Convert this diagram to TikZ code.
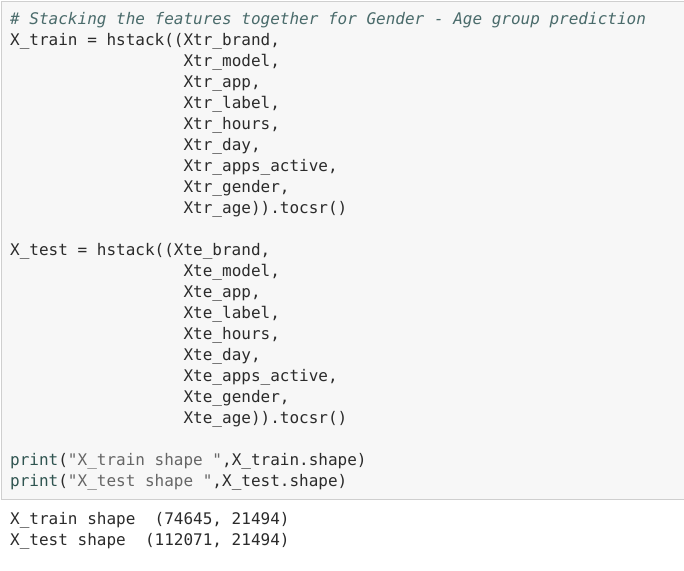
\documentclass[tikz,border=0pt]{standalone}
\usepackage{fontspec}
\newfontfamily\codefont{DejaVu Sans Mono}
\definecolor{cellbg}{HTML}{F7F7F7}
\definecolor{cellborder}{HTML}{CFCFCF}
\definecolor{codefg}{HTML}{2B2B2B}
\definecolor{commentfg}{HTML}{4A6B6B}
\definecolor{builtinfg}{HTML}{2F5450}
\definecolor{stringfg}{HTML}{666666}
\tikzset{
  codeline/.style={anchor=base west, inner sep=0pt, font=\codefont\fontsize{16}{21}\selectfont, text=codefg},
  outline/.style={codeline},
}
\newcommand{\us}{\_}
\begin{document}
\begin{tikzpicture}[x=1pt,y=-1pt]
\useasboundingbox (0,0) rectangle (684,570);
\fill[white] (0,0) rectangle (684,570);
\node[draw=cellborder, fill=cellbg, line width=0.8pt, minimum width=700pt, minimum height=498pt, anchor=north west, inner sep=0pt] (cell) at (1,1) {};
% code lines: baselines at center+5
\node[codeline, text=commentfg, font=\codefont\itshape\fontsize{16}{21}\selectfont] (l1) at (10,24) {\# Stacking the features together for Gender - Age group prediction};
\node[codeline] (l2) at (10,45) {X\us{}train = hstack((Xtr\us{}brand,};
\node[codeline] (l3) at (183.4,66) {Xtr\us{}model,};
\node[codeline] (l4) at (183.4,87) {Xtr\us{}app,};
\node[codeline] (l5) at (183.4,108) {Xtr\us{}label,};
\node[codeline] (l6) at (183.4,129) {Xtr\us{}hours,};
\node[codeline] (l7) at (183.4,150) {Xtr\us{}day,};
\node[codeline] (l8) at (183.4,171) {Xtr\us{}apps\us{}active,};
\node[codeline] (l9) at (183.4,192) {Xtr\us{}gender,};
\node[codeline] (l10) at (183.4,213) {Xtr\us{}age)).tocsr()};
\node[codeline] (m1) at (10,255) {X\us{}test = hstack((Xte\us{}brand,};
\node[codeline] (m2) at (183.4,276) {Xte\us{}model,};
\node[codeline] (m3) at (183.4,297) {Xte\us{}app,};
\node[codeline] (m4) at (183.4,318) {Xte\us{}label,};
\node[codeline] (m5) at (183.4,339) {Xte\us{}hours,};
\node[codeline] (m6) at (183.4,360) {Xte\us{}day,};
\node[codeline] (m7) at (183.4,381) {Xte\us{}apps\us{}active,};
\node[codeline] (m8) at (183.4,402) {Xte\us{}gender,};
\node[codeline] (m9) at (183.4,423) {Xte\us{}age)).tocsr()};
\node[codeline] (p1) at (10,465) {\textcolor{builtinfg}{print}(\textcolor{stringfg}{"X\us{}train shape\ "},X\us{}train.shape)};
\node[codeline] (p2) at (10,486) {\textcolor{builtinfg}{print}(\textcolor{stringfg}{"X\us{}test shape\ "},X\us{}test.shape)};
\node[outline] (o1) at (10,524) {X\us{}train shape\ \ (74645, 21494)};
\node[outline] (o2) at (10,545) {X\us{}test shape\ \ (112071, 21494)};
\end{tikzpicture}
\end{document}
